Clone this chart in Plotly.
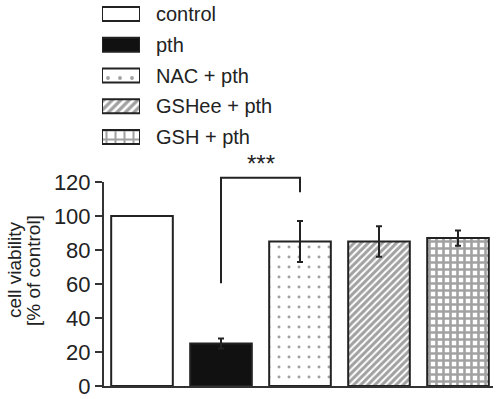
import plotly.graph_objects as go

# ---- data ----
categories = ["control", "pth", "NAC + pth", "GSHee + pth", "GSH + pth"]
viability = [100, 25, 85, 85, 87]
errors = [0, 3, 12, 9, 4.5]
tick_values = [0, 20, 40, 60, 80, 100, 120]
bracket_x = ["pth", "pth", "NAC + pth", "NAC + pth"]
bracket_y = [60.5, 122.5, 122.5, 114]
sig_label = "***"
sig_pos = (1.5, 131)
title_lines = ["cell viability", "[% of control]"]

# ---- styles ----
INK = "#222222"
FONT = "Liberation Sans, Arial, sans-serif"
fill_colors = ["white", "#111111", "white", "white", "white"]
pat_shapes = ["", "", ".", "/", "+"]
pat_sizes = [8, 8, 10, 5, 7]
pat_solid = [0.3, 0.3, 0.07, 0.6, 0.6]
leg_sizes = [8, 8, 12, 6, 9]
leg_solid = [0.3, 0.3, 0.08, 0.55, 0.4]

W, H = 498, 399
ML, MR, MT = 98, 5, 0
PW = W - ML - MR
PBOT = 386                   # pixel row of the plot bottom (value 0)
MB = H - PBOT
PH = H - MT - MB
YTOP = 182                   # pixel row of value 120
scale = (PBOT - YTOP) / 120.0

def py(y_px):  # pixel row -> paper fraction
    return (PBOT - y_px) / PH

def pxf(x_px):  # pixel column -> paper fraction
    return (x_px - ML) / PW

fig = go.Figure()

fig.add_trace(go.Bar(
    x=categories, y=viability,
    xaxis="x", yaxis="y",
    width=0.78,
    marker=dict(
        color=fill_colors,
        line=dict(color=INK, width=2),
        pattern=dict(shape=pat_shapes, size=pat_sizes, solidity=pat_solid,
                     fgcolor="#111111", fillmode="overlay"),
    ),
    error_y=dict(type="data", array=errors, color=INK, thickness=2, width=3),
    showlegend=False,
))

# significance bracket on a taller, hidden y axis sharing the same scale
fig.add_trace(go.Scatter(
    x=bracket_x, y=bracket_y, xaxis="x", yaxis="y3",
    mode="lines", line=dict(color=INK, width=2), showlegend=False,
    hoverinfo="skip",
))

# legend swatches drawn as horizontal bars on their own axes
fig.add_trace(go.Bar(
    x=[1] * len(categories), y=categories, orientation="h",
    xaxis="x2", yaxis="y2", width=0.46, cliponaxis=False,
    marker=dict(
        color=fill_colors,
        line=dict(color=INK, width=2),
        pattern=dict(shape=pat_shapes, size=leg_sizes, solidity=leg_solid,
                     fgcolor="#111111", fillmode="overlay"),
    ),
    showlegend=False, hoverinfo="skip",
))

# legend rows: first centre at y=14, last at 137
leg_top, leg_bot, row0 = 0, 158, 14
pitch = (137 - row0) / (len(categories) - 1)
y3_top = 140

fig.update_layout(
    template="none",
    width=W, height=H,
    margin=dict(l=ML, r=MR, t=MT, b=MB, pad=0),
    paper_bgcolor="white", plot_bgcolor="rgba(0,0,0,0)",
    font=dict(family=FONT, color=INK),
    showlegend=False,
    xaxis=dict(
        domain=[pxf(104), 1], range=[-0.481, 4.443], anchor="y",
        showline=True, linecolor="#333333", linewidth=2,
        showticklabels=False, ticks="", showgrid=False, zeroline=False,
        categoryorder="array", categoryarray=categories, automargin=False,
    ),
    yaxis=dict(
        domain=[0, py(YTOP)], range=[0, 120], anchor="x",
        showline=True, linecolor="#333333", linewidth=2,
        ticks="outside", ticklen=7, tickwidth=2, tickcolor="#333333",
        tickvals=tick_values, tickfont=dict(size=22, color=INK),
        showgrid=False, zeroline=False, automargin=False,
    ),
    yaxis3=dict(
        domain=[0, py(y3_top)], range=[0, (PBOT - y3_top) / scale],
        anchor="x", visible=False,
    ),
    xaxis2=dict(
        domain=[pxf(102), pxf(140)], range=[0, 1], anchor="y2",
        visible=False,
    ),
    yaxis2=dict(
        domain=[py(leg_bot), 1], anchor="x2", side="right", type="category",
        range=[(leg_bot - row0) / pitch, (leg_top - row0) / pitch],
        categoryorder="array", categoryarray=categories,
        showline=False, ticks="", showgrid=False, zeroline=False,
        tickfont=dict(size=20, color=INK), ticklabelstandoff=15,
        automargin=False,
    ),
    annotations=[
        dict(x=sig_pos[0], y=sig_pos[1], xref="x", yref="y3", text=sig_label,
             showarrow=False, font=dict(size=24, color=INK),
             xanchor="center", yanchor="middle"),
        dict(x=pxf(14), y=py(270), xref="paper", yref="paper",
             text=title_lines[0], textangle=-90, showarrow=False,
             font=dict(size=19, color=INK), xanchor="center", yanchor="middle"),
        dict(x=pxf(33), y=py(271), xref="paper", yref="paper",
             text=title_lines[1], textangle=-90, showarrow=False,
             font=dict(size=19, color=INK), xanchor="center", yanchor="middle"),
    ],
)

fig.write_html("out.html",
               config={"displayModeBar": False},
               post_script="document.body.style.margin='0';")
